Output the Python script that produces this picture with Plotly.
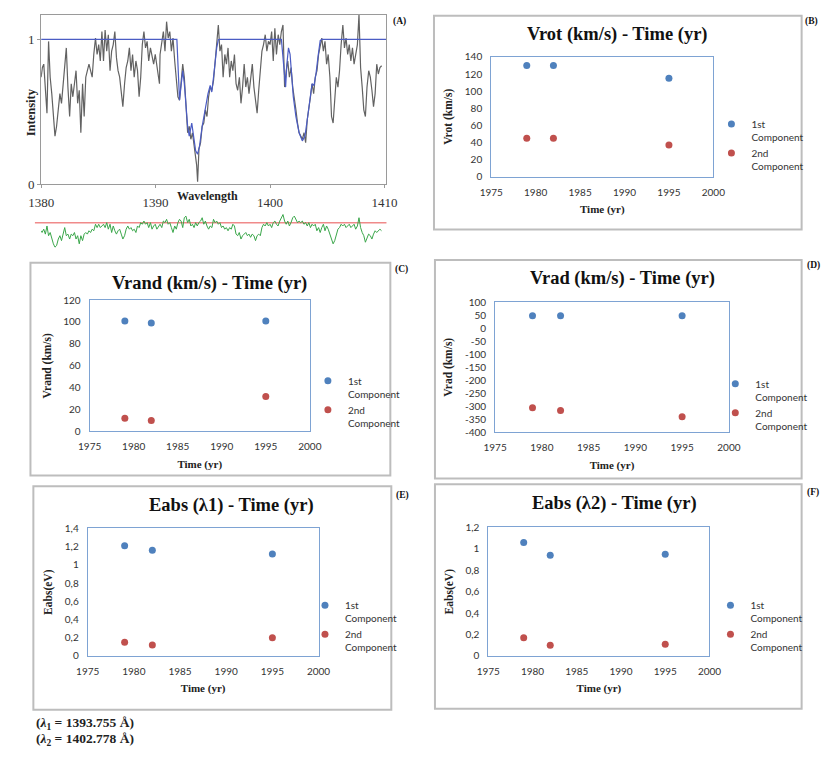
import plotly.graph_objects as go

W, H = 834, 758
SERIF = "Liberation Serif"
SANS = "Lato"

# ---------------- Panel A : spectrum ----------------
spec_wl = [
    1380.00, 1380.11, 1380.23, 1380.37, 1380.51, 1380.65, 1380.79, 1380.93, 1381.07, 1381.21,
    1381.35, 1381.50, 1381.64, 1381.78, 1381.92, 1382.06, 1382.20, 1382.34, 1382.49, 1382.63,
    1382.77, 1382.91, 1383.05, 1383.19, 1383.33, 1383.47, 1383.62, 1383.76, 1383.90, 1384.04,
    1384.18, 1384.32, 1384.46, 1384.60, 1384.75, 1384.89, 1385.03, 1385.17, 1385.31, 1385.45,
    1385.59, 1385.73, 1385.87, 1386.02, 1386.16, 1386.30, 1386.44, 1386.58, 1386.72, 1386.86,
    1387.00, 1387.14, 1387.29, 1387.43, 1387.57, 1387.71, 1387.85, 1387.99, 1388.13, 1388.28,
    1388.42, 1388.56, 1388.70, 1388.84, 1388.98, 1389.12, 1389.26, 1389.40, 1389.55, 1389.69,
    1389.83,
    1389.97, 1390.11, 1390.25, 1390.34, 1390.39, 1390.54, 1390.68, 1390.82, 1390.96, 1391.10,
    1391.24, 1391.38, 1391.52, 1391.67, 1391.81, 1391.95, 1392.09, 1392.23, 1392.37, 1392.51,
    1392.65, 1392.80, 1392.94, 1393.08, 1393.22, 1393.36, 1393.50, 1393.59, 1393.67, 1393.79,
    1393.93, 1394.07, 1394.21, 1394.35, 1394.49, 1394.63, 1394.77, 1394.91, 1395.06, 1395.20,
    1395.34, 1395.48, 1395.62, 1395.76, 1395.90, 1396.05, 1396.19, 1396.33, 1396.47, 1396.61,
    1396.75, 1396.89, 1397.03, 1397.17, 1397.32, 1397.46, 1397.60, 1397.74, 1397.88, 1398.02,
    1398.16, 1398.30, 1398.45, 1398.59, 1398.73, 1398.87, 1399.01, 1399.15, 1399.29, 1399.43,
    1399.58, 1399.72, 1399.86,
    1400.00, 1400.14, 1400.28, 1400.42, 1400.56, 1400.71, 1400.85, 1400.99, 1401.13, 1401.27,
    1401.41, 1401.55, 1401.69, 1401.84, 1401.98, 1402.12, 1402.26, 1402.40, 1402.54, 1402.68,
    1402.82, 1402.97, 1403.11, 1403.25, 1403.39, 1403.53, 1403.67, 1403.81, 1403.95, 1404.10,
    1404.24, 1404.38, 1404.52, 1404.66, 1404.80, 1404.94, 1405.08, 1405.23, 1405.37, 1405.51,
    1405.65, 1405.79, 1405.93, 1406.07, 1406.21, 1406.36, 1406.50, 1406.64, 1406.78, 1406.92,
    1407.06, 1407.20, 1407.34, 1407.49, 1407.63, 1407.77, 1407.91, 1408.05, 1408.19, 1408.33,
    1408.47, 1408.62, 1408.76, 1408.90, 1409.04, 1409.18, 1409.32, 1409.46, 1409.60, 1409.75,
]
spec_int = [
    0.739, 0.806, 0.829, 0.671, 0.491, 0.986, 0.739, 0.626, 0.446, 0.333,
    0.401, 0.514, 0.626, 0.559, 0.671, 0.784, 0.941, 0.671, 0.468, 0.694,
    0.604, 0.694, 0.784, 0.559, 0.649, 0.356, 0.694, 0.468, 0.739, 0.784,
    0.829, 0.784, 0.739, 0.896, 1.009, 0.896, 0.964, 0.851, 1.054, 0.851,
    1.065, 0.919, 1.032, 0.784, 0.919, 0.964, 1.054, 0.874, 0.784, 0.739,
    0.626, 0.536, 0.694, 0.806, 0.851, 0.941, 0.784, 0.896, 0.739, 0.851,
    0.784, 0.604, 0.739, 0.964, 1.054, 0.941, 0.986, 0.851, 0.941, 0.896,
    0.829,
    0.896, 0.806, 0.739, 0.694, 0.896, 0.964, 1.054, 0.919, 1.122, 1.009,
    1.054, 0.919, 1.009, 0.851, 0.739, 0.604, 0.581, 0.739, 0.829, 0.739,
    0.514, 0.356, 0.401, 0.311, 0.356, 0.266, 0.198, 0.131, 0.018, 0.243,
    0.288, 0.401, 0.423, 0.514, 0.468, 0.604, 0.671, 0.649, 0.716, 0.851,
    0.964, 1.099, 0.919, 0.964, 0.739, 0.896, 0.829, 0.941, 0.739, 0.851,
    0.784, 0.896, 0.694, 0.649, 0.739, 0.559, 0.671, 0.829, 0.671, 0.739,
    0.626, 0.739, 0.829, 0.671, 0.581, 0.491, 0.649, 0.784, 0.919, 0.964,
    1.032, 0.919, 0.986,
    0.964, 1.054, 0.851, 1.077, 0.896, 1.032, 0.964, 1.054, 1.099, 0.671,
    0.784, 0.851, 0.739, 0.806, 0.671, 0.604, 0.514, 0.423, 0.356, 0.333,
    0.311, 0.356, 0.288, 0.446, 0.514, 0.604, 0.694, 0.626, 0.739, 0.784,
    0.896, 0.964, 1.009, 0.919, 0.986, 0.829, 0.896, 0.739, 0.468, 0.423,
    0.626, 0.739, 0.671, 0.784, 0.964, 1.099, 0.941, 1.009, 0.896, 0.964,
    0.851, 0.941, 0.829, 0.919, 0.964, 1.170, 0.806, 0.671, 0.514, 0.468,
    0.671, 0.784, 0.739, 0.649, 0.536, 0.626, 0.829, 0.761, 0.806, 0.818,
]

model_wl = [
    1380.00, 1391.86, 1392.09, 1392.37, 1392.51, 1392.65, 1392.80, 1392.94, 1393.16, 1393.36,
    1393.50, 1393.67, 1393.84, 1394.07, 1394.35, 1394.58, 1394.77, 1394.91, 1395.06, 1395.20,
    1395.34, 1395.48, 1395.60, 1400.99, 1401.13, 1401.27, 1401.36, 1401.47, 1401.61, 1401.75,
    1401.89, 1402.03, 1402.26, 1402.54, 1402.82, 1403.05, 1403.25, 1403.45, 1403.67, 1403.84,
    1404.01, 1404.18, 1404.38, 1404.52, 1410.17,
]
model_int = [
    1.000, 1.000, 0.581, 0.784, 0.694, 0.514, 0.401, 0.333, 0.423, 0.311,
    0.232, 0.209, 0.266, 0.401, 0.536, 0.626, 0.682, 0.637, 0.739, 0.851,
    0.941, 0.998, 1.000, 1.000, 0.851, 0.739, 0.671, 0.829, 0.941, 0.896,
    0.739, 0.604, 0.468, 0.356, 0.300, 0.333, 0.446, 0.581, 0.694, 0.682,
    0.761, 0.874, 0.991, 1.000, 1.000,
]

resid_wl = [
    1380.00, 1380.08, 1380.23, 1380.37, 1380.51, 1380.65, 1380.79, 1380.93, 1381.07, 1381.21,
    1381.35, 1381.50, 1381.64, 1381.78, 1381.92, 1382.06, 1382.20, 1382.34, 1382.49, 1382.63,
    1382.77, 1382.91, 1383.05, 1383.19, 1383.33, 1383.47, 1383.62, 1383.76, 1383.90, 1384.04,
    1384.18, 1384.32, 1384.46, 1384.60, 1384.75, 1384.89, 1385.03, 1385.17, 1385.31, 1385.45,
    1385.59, 1385.73, 1385.87, 1386.02, 1386.16, 1386.30, 1386.44, 1386.58, 1386.72, 1386.86,
    1387.00, 1387.14, 1387.29, 1387.43, 1387.57, 1387.71, 1387.85, 1387.99, 1388.13, 1388.28,
    1388.42, 1388.56, 1388.70, 1388.84, 1388.98, 1389.12, 1389.26, 1389.40, 1389.55, 1389.69,
    1389.83, 1389.97, 1390.11, 1390.25, 1390.39, 1390.54, 1390.68, 1390.82, 1390.96, 1391.10,
    1391.24, 1391.38, 1391.52, 1391.67, 1391.81, 1391.95, 1392.09, 1392.23, 1392.37, 1392.51,
    1392.65, 1392.80, 1392.94, 1393.08, 1393.22, 1393.36, 1393.50, 1393.64, 1393.78, 1393.93,
    1394.07, 1394.21, 1394.35, 1394.49, 1394.63, 1394.77, 1394.92,
    1395.06, 1395.20, 1395.34, 1395.48, 1395.62, 1395.76, 1395.90, 1396.04, 1396.18, 1396.33,
    1396.47, 1396.61, 1396.75, 1396.89, 1397.03, 1397.17, 1397.31, 1397.46, 1397.60, 1397.74,
    1397.88, 1398.02, 1398.16, 1398.30, 1398.44, 1398.59, 1398.73, 1398.87, 1399.01, 1399.15,
    1399.29, 1399.43, 1399.57, 1399.72, 1399.86, 1400.00, 1400.14, 1400.28, 1400.42, 1400.56,
    1400.70, 1400.85, 1400.99, 1401.13, 1401.27, 1401.41, 1401.55, 1401.69, 1401.83, 1401.98,
    1402.12, 1402.26, 1402.40, 1402.54, 1402.68, 1402.82, 1402.96, 1403.11, 1403.25, 1403.39,
    1403.53, 1403.67, 1403.81, 1403.95, 1404.09, 1404.24, 1404.38, 1404.52, 1404.66, 1404.80,
    1404.94, 1405.08, 1405.22, 1405.37, 1405.51, 1405.65, 1405.79, 1405.93, 1406.07, 1406.21,
    1406.35, 1406.50, 1406.64, 1406.78, 1406.92, 1407.06, 1407.20, 1407.34, 1407.48, 1407.63,
    1407.77, 1407.91, 1408.05, 1408.19, 1408.33, 1408.47, 1408.61, 1408.76, 1408.90, 1409.04,
    1409.18, 1409.32, 1409.46, 1409.60, 1409.74,
]
resid_val = [
    -0.056, -0.068, -0.045, -0.079, -0.023, -0.090, -0.068, -0.113, -0.146, -0.169,
    -0.158, -0.113, -0.090, -0.124, -0.068, -0.034, -0.090, -0.079, -0.113, -0.079,
    -0.090, -0.068, -0.113, -0.090, -0.146, -0.090, -0.124, -0.079, -0.068, -0.079,
    -0.056, -0.068, -0.045, -0.056, -0.011, -0.034, -0.011, -0.034, -0.023, -0.011,
    -0.034, 0.000, -0.045, -0.011, -0.068, -0.023, -0.056, -0.079, -0.056, -0.045,
    -0.079, -0.113, -0.090, -0.045, -0.023, -0.045, -0.034, -0.056, -0.045, -0.068,
    -0.023, -0.034, 0.000, -0.011, 0.011, -0.011, 0.000, -0.034, 0.000, -0.045,
    -0.023, -0.011, -0.045, -0.023, -0.011, -0.034, 0.011, 0.000, 0.023, -0.011,
    0.000, -0.034, -0.068, -0.023, -0.045, 0.000, 0.023, 0.011, -0.034, 0.034,
    0.045, 0.000, 0.023, -0.023, -0.011, -0.034, 0.000, -0.023, 0.000, 0.011,
    0.034, -0.011, 0.011, -0.023, -0.045, -0.023, -0.034,
    0.023, 0.000, 0.011, -0.011, 0.000, -0.034, -0.023, -0.045, -0.034, -0.056,
    -0.034, -0.045, -0.011, -0.023, -0.079, -0.090, -0.068, -0.113, -0.090, -0.079,
    -0.068, -0.090, -0.079, -0.101, -0.079, -0.090, -0.124, -0.090, -0.079, -0.090,
    -0.034, -0.011, -0.023, 0.000, -0.023, -0.011, -0.034, 0.000, 0.011, -0.011,
    -0.023, 0.011, 0.034, 0.056, 0.011, -0.011, 0.011, -0.023, 0.000, 0.034,
    0.045, 0.023, 0.000, 0.011, 0.000, 0.011, -0.011, 0.000, -0.023, 0.000,
    -0.034, -0.011, -0.023, -0.011, -0.056, -0.034, -0.068, -0.034, -0.011, -0.056,
    -0.023, -0.045, -0.079, -0.113, -0.146, -0.124, -0.079, -0.045, -0.034, -0.011,
    -0.023, -0.011, -0.034, -0.023, -0.011, -0.034, -0.023, -0.011, -0.045, -0.023,
    0.034, -0.034, -0.068, -0.090, -0.135, -0.101, -0.079, -0.090, -0.113, -0.079,
    -0.056, -0.068, -0.056, -0.045, -0.056,
]
spec_xticks = [1380, 1390, 1400, 1410]
spec_yticks = [0, 1]

# ---------------- Panels B-F ----------------
years = [1979, 1982, 1995]
vrot_1st = [130, 130, 115]
vrot_2nd = [45, 45, 37]
vrand_1st = [101, 99, 101]
vrand_2nd = [12, 10, 32]
vrad_1st = [47, 47, 47]
vrad_2nd = [-305, -316, -340]
eabs1_1st = [1.21, 1.16, 1.12]
eabs1_2nd = [0.15, 0.12, 0.20]
eabs2_1st = [1.06, 0.94, 0.95]
eabs2_2nd = [0.17, 0.10, 0.11]
vrad_ticks = [100, 50, 0, -50, -100, -150, -200, -250, -300, -350, -400]
series_names = ["1st<br>Component", "2nd<br>Component"]
BLUE, RED = "#4f81bd", "#c0504d"


def fx(px):
    return px / W


def fy(py):
    return 1 - py / H


def note(text, px, py, size, angle=0, xanchor="center", family=SERIF, color="#111"):
    return dict(text=text, x=fx(px), y=fy(py), xref="paper", yref="paper", showarrow=False,
                xanchor=xanchor, yanchor="middle", textangle=angle,
                font=dict(family=family, size=size, color=color))


fig = go.Figure()

# Panel A traces
fig.add_trace(go.Scatter(x=spec_wl, y=spec_int, mode="lines", xaxis="x", yaxis="y",
                         line=dict(color="#626262", width=1.2), showlegend=False))
fig.add_trace(go.Scatter(x=model_wl, y=model_int, mode="lines", xaxis="x", yaxis="y",
                         line=dict(color="#4b5cc4", width=1.2), showlegend=False))
fig.add_trace(go.Scatter(x=resid_wl, y=resid_val, mode="lines", xaxis="x2", yaxis="y2",
                         line=dict(color="#3aa64a", width=1), showlegend=False))

panels = [
    dict(n=3, leg="legend", title="Vrot (km/s) - Time (yr)", ytitle="Vrot (km/s)",
         y1=vrot_1st, y2=vrot_2nd, yr=[0, 140], dtick=20,
         box=(493, 722, 51, 173), frame=(434, 813, 9, 227), tpos=(623, 28),
         lab="(B)", lpos=(823, 15), legpos=(743, 117)),
    dict(n=4, leg="legend2", title="Vrand (km/s) - Time (yr)", ytitle="Vrand (km/s)",
         y1=vrand_1st, y2=vrand_2nd, yr=[0, 120], dtick=20,
         box=(79, 306, 299, 433), frame=(18, 389, 261, 478), tpos=(203, 282),
         lab="(C)", lpos=(400, 268), legpos=(327, 379)),
    dict(n=5, leg="legend3", title="Vrad (km/s) - Time (yr)", ytitle="Vrad (km/s)",
         y1=vrad_1st, y2=vrad_2nd, yr=[-400, 100], dtick=None,
         box=(497, 738, 301, 434), frame=(435, 813, 258, 481), tpos=(628, 277),
         lab="(D)", lpos=(825, 264), legpos=(747, 382)),
    dict(n=6, leg="legend4", title="Eabs (λ1) - Time (yr)", ytitle="Eabs(eV)",
         y1=eabs1_1st, y2=eabs1_2nd, yr=[0, 1.4], dtick=0.2,
         box=(77, 315, 532, 662), frame=(21, 390, 489, 717), tpos=(225, 509),
         lab="(E)", lpos=(402, 498), legpos=(324, 608)),
    dict(n=7, leg="legend5", title="Eabs (λ2) - Time (yr)", ytitle="Eabs(eV)",
         y1=eabs2_1st, y2=eabs2_2nd, yr=[0, 1.2], dtick=0.2,
         box=(490, 718, 531, 662), frame=(435, 813, 487, 716), tpos=(620, 507),
         lab="(F)", lpos=(825, 495), legpos=(742, 608)),
]

annotations = []
shapes = []
layout_axes = {}

for p in panels:
    n = p["n"]
    for vals, name, col in ((p["y1"], series_names[0], BLUE), (p["y2"], series_names[1], RED)):
        fig.add_trace(go.Scatter(x=years, y=vals, mode="markers", name=name,
                                 xaxis=f"x{n}", yaxis=f"y{n}", legend=p["leg"],
                                 marker=dict(color=col, size=7)))
    l, r, t, b = p["box"]
    layout_axes[f"xaxis{n}"] = dict(
        domain=[fx(l), fx(r)], anchor=f"y{n}", range=[1975, 2000], dtick=5, tick0=1975,
        showgrid=False, zeroline=False, showline=True, mirror=True, linecolor="#7ea3d3",
        linewidth=1, ticks="", ticklabelstandoff=6,
        tickfont=dict(family=SANS, size=10, color="#333"),
        title=dict(text="<b>Time (yr)</b>", font=dict(family=SERIF, size=11, color="#222"),
                   standoff=8))
    yax = dict(
        domain=[fy(b), fy(t)], anchor=f"x{n}", range=p["yr"],
        showgrid=False, zeroline=False, showline=True, mirror=True, linecolor="#7ea3d3",
        linewidth=1, ticks="", ticklabelstandoff=6,
        tickfont=dict(family=SANS, size=10, color="#333"),
        title=dict(text=f"<b>{p['ytitle']}</b>", font=dict(family=SERIF, size=11.5, color="#222"),
                   standoff=9))
    if p["dtick"] is None:
        yax["tickvals"] = vrad_ticks
        yax["ticktext"] = [str(v) for v in vrad_ticks]
    else:
        yax["dtick"] = p["dtick"]
        yax["tick0"] = 0
    layout_axes[f"yaxis{n}"] = yax

    fl, fr, ft, fb = p["frame"]
    shapes.append(dict(type="rect", xref="paper", yref="paper", x0=fx(fl), x1=fx(fr),
                       y0=fy(fb), y1=fy(ft), line=dict(color="#bdbdbd", width=2),
                       fillcolor="rgba(0,0,0,0)", layer="below"))
    annotations.append(note(f"<b>{p['title']}</b>", p["tpos"][0], p["tpos"][1], 18.5))
    annotations.append(note(f"<b>{p['lab']}</b>", p["lpos"][0], p["lpos"][1], 9.5))
    lx, ly = p["legpos"]
    layout_axes[p["leg"]] = dict(x=fx(lx - 23), y=fy(ly - 11), xanchor="left", yanchor="top",
                                 bgcolor="rgba(0,0,0,0)", valign="top",
                                 font=dict(family=SANS, size=10, color="#333"))

# Panel A axes
layout_axes["xaxis"] = dict(
    domain=[fx(29), fx(385)], anchor="y", range=[1380, 1410.17], tickvals=spec_xticks,
    showgrid=False, zeroline=False, showline=True, mirror=True, linecolor="#9a9a9a",
    ticks="outside", ticklen=3, tickcolor="#9a9a9a", ticklabelstandoff=3,
    tickfont=dict(family=SERIF, size=13, color="#333"))
layout_axes["yaxis"] = dict(
    domain=[fy(181), fy(8)], anchor="x", range=[0, 1.169], tickvals=spec_yticks,
    showgrid=False, zeroline=False, showline=True, mirror=True, linecolor="#9a9a9a",
    ticks="outside", ticklen=3, tickcolor="#9a9a9a",
    tickfont=dict(family=SERIF, size=13, color="#333"))
layout_axes["xaxis2"] = dict(domain=[fx(29), fx(385)], anchor="y2", range=[1380, 1410.17],
                             visible=False)
layout_axes["yaxis2"] = dict(domain=[fy(250), fy(205)], anchor="x2", range=[-0.2027, 0.1014],
                             visible=False)
shapes.append(dict(type="line", xref="x2 domain", yref="y2", x0=-0.018, x1=1.0, y0=0, y1=0,
                   line=dict(color="#f08a8a", width=1.5), layer="below"))

annotations += [
    note("<b>Wavelength</b>", 201, 193, 12, color="#222"),
    note("<b>Intensity</b>", 18, 107, 12.5, angle=-90, color="#222"),
    note("<b>(A)</b>", 398, 15, 9.5),
    note("<b>(<i>λ</i><sub>1</sub> = 1393.755 Å)</b>", 22, 731, 13.5, xanchor="left", color="#222"),
    note("<b>(<i>λ</i><sub>2</sub> = 1402.778 Å)</b>", 22, 747, 13.5, xanchor="left", color="#222"),
]

fig.update_layout(
    width=W, height=H, autosize=False,
    margin=dict(l=0, r=0, t=0, b=0, pad=0),
    paper_bgcolor="white", plot_bgcolor="white",
    separators=",.",
    annotations=annotations, shapes=shapes,
    **layout_axes,
)

fig.write_html("out.html", config={"displayModeBar": False},
               post_script="document.body.style.margin='0px';"
                           "document.body.style.overflow='hidden';")
